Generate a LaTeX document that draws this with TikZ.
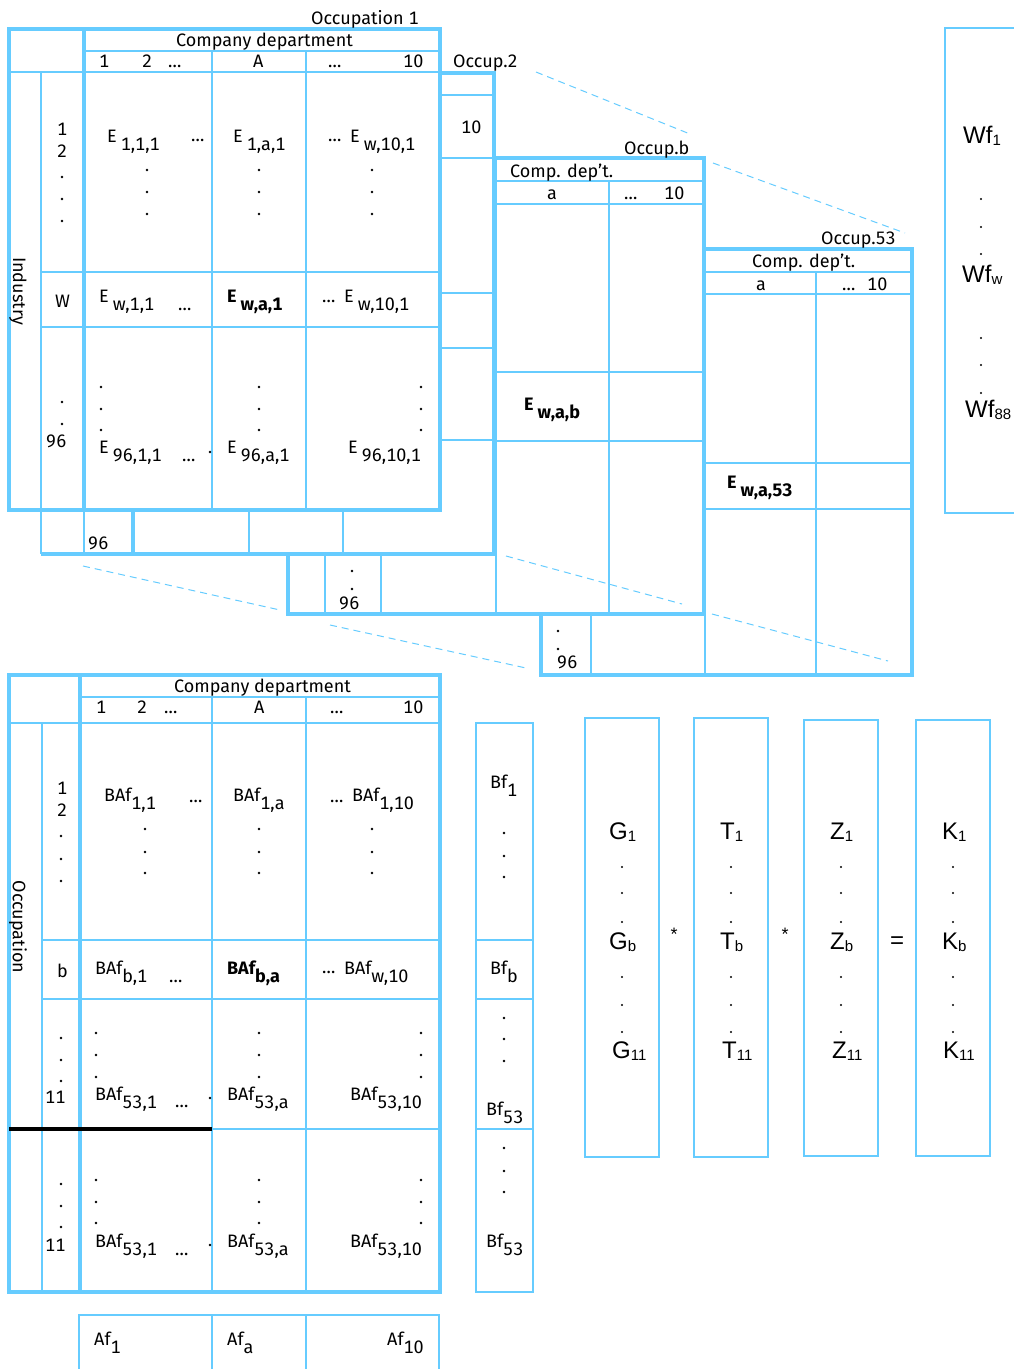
\documentclass[tikz,border=0pt]{standalone}
\usepackage{fontspec}
\setmainfont{Fira Sans}[Numbers={Monospaced,Lining}]
\newfontfamily\arialfam{Liberation Sans}
\definecolor{lb}{RGB}{102,204,255}
\newcommand\mf{\fontsize{18}{20}\selectfont}
\newcommand\af{\arialfam\fontsize{24}{26}\selectfont}
\newcommand\lo[1]{\raisebox{-8pt}{#1}}
\newcommand\as[1]{\raisebox{-2pt}{\fontsize{15}{15}\selectfont #1}}
\newcommand\dts[2]{\foreach \yy in {#2} {\fill (#1,\yy) circle (1.4pt);}}
\newcommand\adts[2]{\foreach \yy in {#2} {\fill (#1,\yy) circle (1.1pt);}}
\begin{document}
\begin{tikzpicture}[x=1pt,y=-1pt,
  t/.style={anchor=base west,inner sep=0pt,font=\mf},
  ta/.style={anchor=base west,inner sep=0pt,font=\af},
  frm/.style={draw=lb,line width=3.5pt},
  thn/.style={draw=lb,line width=2pt},
  bx/.style={draw=lb,line width=2pt},
  gd/.style={draw=lb,line width=1pt,dash pattern=on 7pt off 5pt}]
\useasboundingbox (0,0) rectangle (1013,1369);

% ---------------- guide dashes
\draw[gd] (536,72) -- (690,134);
\draw[gd] (713,163) -- (905,233);
\draw[gd] (83,566) -- (280,610);
\draw[gd] (330,625) -- (526,668);
\draw[gd] (506,556) -- (682,604);
\draw[gd] (712,614) -- (888,661);

% ---------------- layer 4 (Occup.53)
\draw[thn] (705,249) -- (705,675);
\draw[thn] (705,272) -- (912,272);
\draw[thn] (705,294) -- (912,294);
\draw[thn] (816,272) -- (816,675);
\draw[thn] (705,463) -- (912,463);
\draw[thn] (705,509) -- (912,509);
\draw[thn] (591,614) -- (591,675);
\draw[frm] (704,249) -- (912,249) -- (912,675) -- (541,675) -- (541,614);
\node[t] (o53) at (821,244) {Occup.53};
\node[t] (cd53) at (752,267) {Comp. dep’t.};
\node[t] (a53) at (756,290) {a};
\node[t] (el53) at (842,290) {…};
\node[t] (ten53) at (867,290) {10};
\node[t,font=\mf\bfseries] (ew53) at (727,488) {E\hspace{4pt}\lo{w,a,53}};
\dts{558}{631,649}
\node[t] (n96c) at (557,668) {96};

% ---------------- layer 3 (Occup.b)
\draw[thn] (496,158) -- (496,614);
\draw[thn] (496,181) -- (704,181);
\draw[thn] (496,204) -- (704,204);
\draw[thn] (609,181) -- (609,614);
\draw[thn] (496,372) -- (704,372);
\draw[thn] (496,441) -- (704,441);
\draw[thn] (325,554) -- (325,614);
\draw[thn] (381,554) -- (381,614);
\draw[frm] (494,158) -- (704,158) -- (704,614) -- (288,614) -- (288,554);
\node[t] (ob) at (624,154) {Occup.b};
\node[t] (cdb) at (510,177) {Comp. dep’t.};
\node[t] (ab) at (547,199) {a};
\node[t] (elb) at (624,199) {…};
\node[t] (tenb) at (664,199) {10};
\node[t,font=\mf\bfseries] (ewb) at (524,410) {E\hspace{4pt}\lo{w,a,b}};
\dts{352}{571,589}
\node[t] (n96b) at (339,609) {96};

% ---------------- layer 2 (Occup.2)
\foreach \yy in {95,158,293,348,440} {\draw[thn] (440,\yy) -- (494,\yy);}
\draw[thn] (41,510) -- (41,554);
\draw[thn] (84,510) -- (84,554);
\draw[thn] (249,510) -- (249,554);
\draw[thn] (343,510) -- (343,554);
\draw[frm] (133,510) -- (133,554);
\draw[frm] (440,73) -- (494,73) -- (494,554) -- (41,554);
\node[t] (o2) at (453,67) {Occup.2};
\node[t] (ten2) at (461,133) {10};
\node[t] (n96a) at (88,549) {96};

% ---------------- layer 1 (Occupation 1)
\draw[thn] (9,72) -- (440,72);
\draw[thn] (84,51) -- (440,51);
\draw[thn] (41,72) -- (41,510);
\draw[thn] (212,51) -- (212,510);
\draw[thn] (306,51) -- (306,510);
\draw[thn] (41,272) -- (440,272);
\draw[thn] (41,327) -- (440,327);
\draw[frm] (84,29) -- (84,510);
\draw[frm] (9,29) rectangle (440,510);
\node[t] (occ1) at (311,24) {Occupation 1};
\node[t] (cdep1) at (176,46) {Company department};
\node[t] (h1) at (99,67) {1};
\node[t] (h2) at (142,67) {2};
\node[t] (h3) at (168,67) {…};
\node[t] (h4) at (253,67) {A};
\node[t] (h5) at (328,67) {…};
\node[t] (h6) at (403,67) {10};
\node[font=\mf,rotate=-90,inner sep=0pt] (ind) at (18,291) {Industry};
\node[t] (r1) at (57,135) {1};
\node[t] (r2) at (57,157) {2};
\dts{62}{177,199,221}
\node[t] (rw) at (55,307) {W};
\dts{62}{402,424}
\node[t] (r96) at (46,447) {96};
\node[t] (e111) at (107,142) {E\hspace{4pt}\lo{1,1,1}};
\node[t] (el11) at (191,141) {…};
\node[t] (e1a1) at (233,142) {E\hspace{4pt}\lo{1,a,1}};
\node[t] (el12) at (328,141) {…};
\node[t] (e1101) at (350,142) {E\hspace{4pt}\lo{w,10,1}};
\dts{147}{170,192,214}
\dts{259}{170,192,214}
\dts{372}{170,192,214}
\node[t] (ew11) at (99,302) {E\hspace{4pt}\lo{w,1,1}};
\node[t] (elw1) at (178,310) {…};
\node[t,font=\mf\bfseries] (ewa1) at (227,302) {E\hspace{4pt}\lo{w,a,1}};
\node[t] (elw2) at (322,302) {…};
\node[t] (ew101) at (344,302) {E\hspace{4pt}\lo{w,10,1}};
\dts{101}{387,409,430}
\dts{259}{387,409,430}
\dts{421}{387,409,430}
\node[t] (e9611) at (99,453) {E\hspace{4pt}\lo{96,1,1}};
\node[t] (el96) at (182,461) {…};
\fill (210,452) circle (1.4pt);
\node[t] (e96a1) at (227,453) {E\hspace{4pt}\lo{96,a,1}};
\node[t] (e96101) at (348,453) {E\hspace{4pt}\lo{96,10,1}};

% ---------------- Wf box
\draw[bx] (1014,28) -- (945,28) -- (945,513) -- (1014,513);
\node[ta] (wf1) at (963,143) {Wf\as{1}};
\adts{981}{199,227,254}
\node[ta] (wfw) at (962,282) {Wf\as{w}};
\adts{981}{338,365,393}
\node[ta] (wf88) at (965,417) {Wf\as{88}};

% ---------------- bottom matrix (Occupation)
\draw[thn] (80,697) -- (440,697);
\draw[thn] (9,723) -- (440,723);
\draw[thn] (42,723) -- (42,1292);
\draw[thn] (212,697) -- (212,1292);
\draw[thn] (306,697) -- (306,1292);
\draw[thn] (42,940) -- (440,940);
\draw[thn] (42,999) -- (440,999);
\draw[thn] (42,1129) -- (440,1129);
\draw[frm] (80,675) -- (80,1292);
\draw[frm] (9,675) rectangle (440,1292);
\draw[line width=3.5pt,black] (9,1129) -- (212,1129);
\node[t] (cdep2) at (174,692) {Company department};
\node[t] (k1) at (96,713) {1};
\node[t] (k2) at (137,713) {2};
\node[t] (k3) at (164,713) {…};
\node[t] (k4) at (254,713) {A};
\node[t] (k5) at (330,713) {…};
\node[t] (k6) at (403,713) {10};
\node[font=\mf,rotate=-90,inner sep=0pt] (occ) at (18,927) {Occupation};
\node[t] (q1) at (57,794) {1};
\node[t] (q2) at (57,816) {2};
\dts{61}{836,859,881}
\node[t] (qb) at (57,977) {b};
\dts{61}{1038,1060,1081}
\node[t] (q11a) at (45,1103) {11};
\dts{61}{1184,1206,1227}
\node[t] (q11b) at (45,1251) {11};
\node[t] (b11) at (104,801) {BAf\lo{1,1}};
\node[t] (bl1) at (189,802) {…};
\node[t] (b1a) at (233,801) {BAf\lo{1,a}};
\node[t] (bl2) at (330,802) {…};
\node[t] (b110) at (352,801) {BAf\lo{1,10}};
\dts{145}{829,852,873}
\dts{259}{829,852,873}
\dts{372}{829,852,873}
\node[t] (bb1) at (95,974) {BAf\lo{b,1}};
\node[t] (bl3) at (169,982) {…};
\node[t,font=\mf\bfseries] (bba) at (227,974) {BAf\lo{b,a}};
\node[t] (bl4) at (322,973) {…};
\node[t] (bw10) at (344,974) {BAf\lo{w,10}};
\dts{96}{1033,1055,1077}
\dts{259}{1033,1055,1077}
\dts{421}{1033,1055,1077}
\node[t] (b531) at (95,1100) {BAf\lo{53,1}};
\node[t] (bl5) at (175,1107) {…};
\fill (210,1098) circle (1.4pt);
\node[t] (b53a) at (227,1100) {BAf\lo{53,a}};
\node[t] (b5310) at (350,1100) {BAf\lo{53,10}};
\dts{96}{1180,1202,1223}
\dts{259}{1180,1202,1223}
\dts{421}{1180,1202,1223}
\node[t] (c531) at (95,1247) {BAf\lo{53,1}};
\node[t] (bl6) at (175,1255) {…};
\fill (210,1245) circle (1.4pt);
\node[t] (c53a) at (227,1247) {BAf\lo{53,a}};
\node[t] (c5310) at (350,1247) {BAf\lo{53,10}};

% ---------------- Bf column
\draw[thn] (476,723) rectangle (533,1292);
\foreach \yy in {940,999,1129} {\draw[thn] (476,\yy) -- (533,\yy);}
\node[t] (bf1) at (490,788) {Bf\lo{1}};
\dts{504}{833,856,877}
\node[t] (bfb) at (490,974) {Bf\lo{b}};
\dts{504}{1018,1039,1061}
\node[t] (bf53a) at (486,1115) {Bf\lo{53}};
\dts{504}{1148,1171,1192}
\node[t] (bf53b) at (486,1247) {Bf\lo{53}};

% ---------------- Af row
\draw[thn] (79,1370) -- (79,1315) -- (439,1315) -- (439,1370);
\draw[thn] (212,1315) -- (212,1370);
\draw[thn] (306,1315) -- (306,1370);
\node[t] (af1) at (94,1345) {Af\lo{1}};
\node[t] (afa) at (227,1345) {Af\lo{a}};
\node[t] (af10) at (387,1345) {Af\lo{10}};

% ---------------- G T Z K vectors
\draw[bx] (585,718) rectangle (659,1157);
\draw[bx] (694,718) rectangle (768,1157);
\draw[bx] (804,720) rectangle (878,1156);
\draw[bx] (916,720) rectangle (990,1156);
\node[ta] (g1) at (609,839) {G\as{1}};
\node[ta] (gb) at (609,949) {G\as{b}};
\node[ta] (g11) at (612,1058) {G\as{11}};
\node[ta] (t1) at (720,839) {T\as{1}};
\node[ta] (tb) at (720,949) {T\as{b}};
\node[ta] (t11) at (722,1058) {T\as{11}};
\node[ta] (z1) at (830,839) {Z\as{1}};
\node[ta] (zb) at (830,949) {Z\as{b}};
\node[ta] (z11) at (832,1058) {Z\as{11}};
\node[ta] (kk1) at (942,839) {K\as{1}};
\node[ta] (kb) at (942,949) {K\as{b}};
\node[ta] (kk11) at (943,1058) {K\as{11}};
\foreach \xx in {622,731,841,953} {\adts{\xx}{867,893,922,977,1005,1032}}
\node[anchor=base,inner sep=0pt,font=\arialfam\fontsize{18}{20}\selectfont] (st1) at (674,940) {*};
\node[anchor=base,inner sep=0pt,font=\arialfam\fontsize{18}{20}\selectfont] (st2) at (785,940) {*};
\node[anchor=base,inner sep=0pt,font=\af] (eq) at (897,948) {=};
\end{tikzpicture}
\end{document}
